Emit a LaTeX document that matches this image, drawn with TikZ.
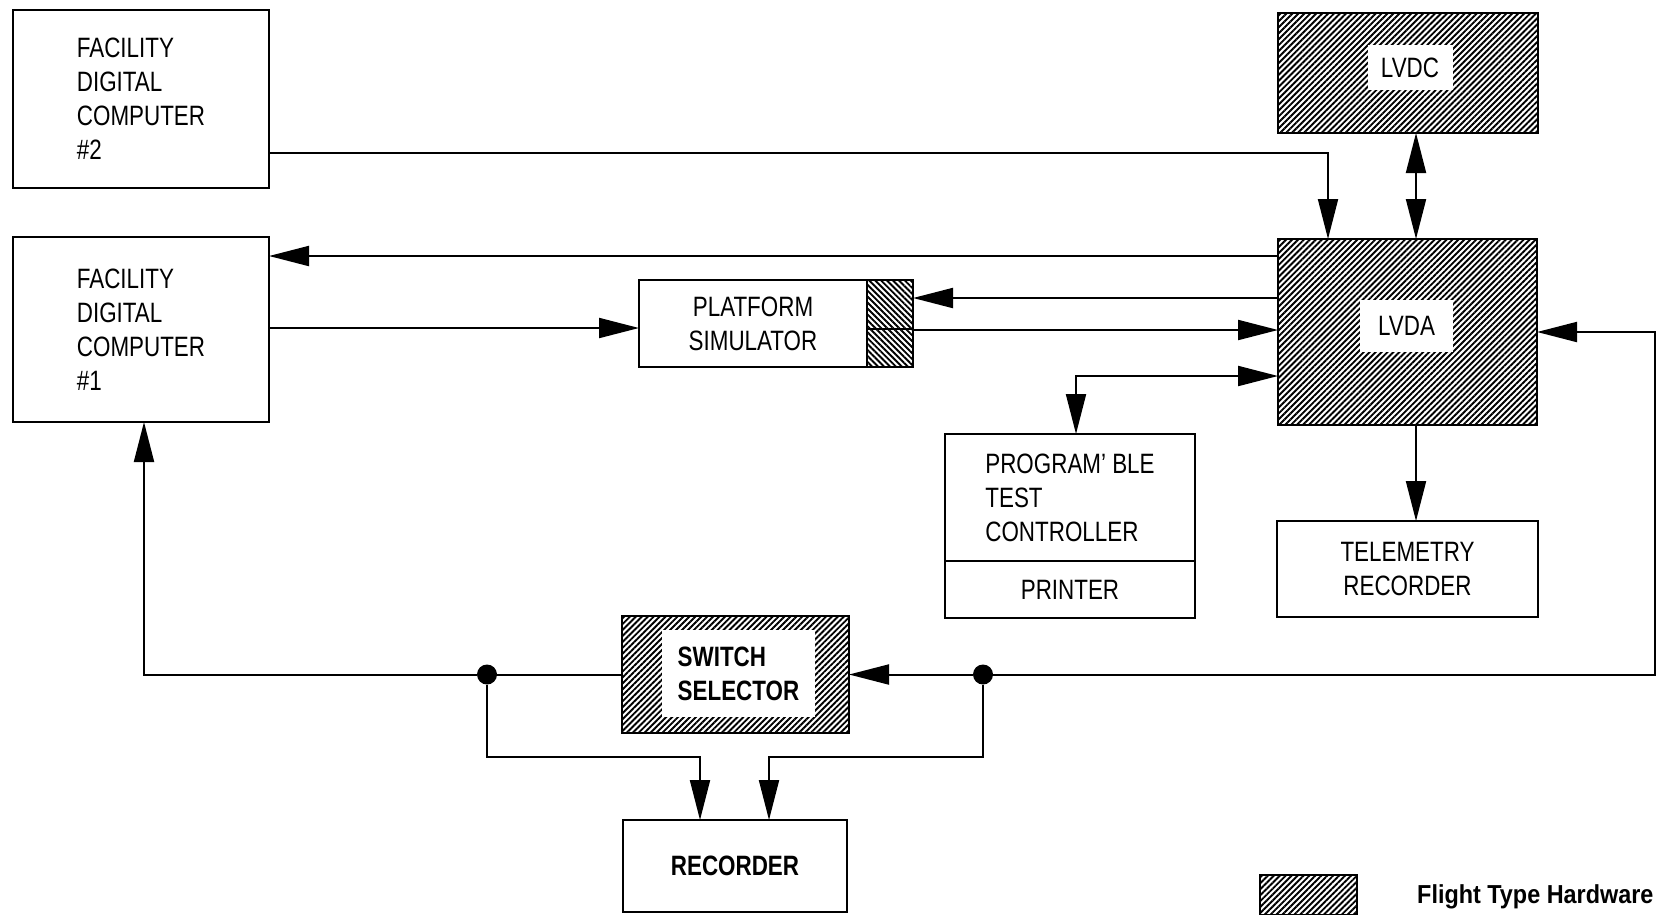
\documentclass[tikz,border=0pt]{standalone}
\usepackage{fontspec}
\setmainfont{Liberation Sans}[FakeStretch=0.8]
\newfontfamily\legendfont{Liberation Sans}[FakeStretch=0.9]
\usetikzlibrary{arrows.meta,patterns.meta,positioning}
\newcommand\BoxFont{\fontsize{28}{34}\selectfont}
\newcommand\TipLength{40pt}
\tikzset{
  block/.style={
    shape = rectangle,
    draw,
    line width = 2.6pt,
    inner sep = 0pt,
    outer sep = 0pt,
    font = \BoxFont
  },
}
\tikzset{
  flight/.style={
    block,
    pattern = {Lines[angle=45,distance=4.2pt,line width=1.9pt]}
  },
  flightrev/.style={
    block,
    pattern = {Lines[angle=-45,distance=4.2pt,line width=1.9pt]}
  },
  inset/.style={
    shape = rectangle,
    fill = white,
    inner sep = 0pt,
    font = \BoxFont
  },
  junction/.style={
    shape = circle,
    fill,
    inner sep = 0pt,
    minimum size = 20pt
  },
  link/.style={
    line width = 2pt
  }
}

\begin{document}
\begin{tikzpicture}[x=1pt,y=-1pt,>={Triangle[length=\TipLength,width=20pt]}]
    \path[use as bounding box, fill=white] (0,0) rectangle (1661,914);

    % facility computers
    \node[block, minimum width=256pt, minimum height=178pt, align=left] (fdcB) at (141,99) {FACILITY\\DIGITAL\\COMPUTER\\\#2};
    \node[block, minimum width=256pt, minimum height=185pt, align=left] (fdcA) at (141,329.5) {FACILITY\\DIGITAL\\COMPUTER\\\#1};

    % flight hardware
    \node[flight, minimum width=260pt, minimum height=120pt] (lvdc) at (1408,73) {};
    \node[inset, minimum width=85pt, minimum height=45pt] (lvdcL) at (1410,67.5) {LVDC};
    \node[flight, minimum width=259pt, minimum height=186pt] (lvda) at (1407.5,332) {};
    \node[inset, minimum width=93pt, minimum height=52pt] (lvdaL) at (1406.5,326) {LVDA};

    \node[block, minimum width=228pt, minimum height=87pt, align=center] (plat) at (753,323.5) {PLATFORM\\SIMULATOR};
    \node[flightrev, minimum width=46pt, minimum height=87pt, right=0pt of plat] (plathw) {};

    \node[block, minimum width=250pt, minimum height=127pt, align=left] (ptc) at (1070,497.5) {PROGRAM’ BLE\\TEST\\CONTROLLER};
    \node[block, minimum width=250pt, minimum height=57pt, below=0pt of ptc] (prn) {PRINTER};

    \node[block, minimum width=261pt, minimum height=96pt, align=center] (tlm) at (1407.5,569) {TELEMETRY\\RECORDER};

    \node[flight, minimum width=227pt, minimum height=117pt] (ssel) at (735.5,674.5) {};
    \node[inset, minimum width=153pt, minimum height=87pt, align=left, font=\BoxFont\bfseries] (sselL) at (738.5,673.5) {SWITCH\\SELECTOR};

    \node[block, minimum width=224pt, minimum height=92pt, font=\BoxFont\bfseries] (rec) at (735,866) {RECORDER};

    \node[junction] (dotL) at (487,674.5) {};
    \node[junction] (dotR) at (983,674.5) {};
    \coordinate (cornR) at (1655,674.5);

    % connectors
    \draw[link,->] (fdcB.east |- 0,153) -| (lvda.north -| 1328,0);
    \draw[link,<->] (lvdc.south -| 1416,0) -- (lvda.north -| 1416,0);
    \draw[link,->] (lvda.west |- 0,256) -- (fdcA.east |- 0,256);
    \draw[link,->] (fdcA.east |- 0,328) -- (plat.west |- 0,328);
    \draw[link,->] (lvda.west |- 0,298) -- (plathw.east |- 0,298);
    \draw[link] (plathw.west |- 0,329) -- (plathw.east |- 0,329);
    \draw[link,->] (plathw.east |- 0,330) -- (lvda.west |- 0,330);
    \draw[link,<->] (ptc.north -| 1076,0) |- (lvda.west |- 0,376);
    \draw[link,->] (lvda.south -| 1416,0) -- (tlm.north -| 1416,0);

    \draw[link,->] (dotR) -- (ssel.east);
    \draw[link,->] (dotR) -- (cornR) |- (lvda.east);
    \draw[link,->] (ssel.west) -- (dotL) -| (fdcA.south -| 144,0);
    \draw[link,->] (dotL) -- ++(0,82) -| (rec.north -| 700,0);
    \draw[link,->] (dotR) -- ++(0,82) -| (rec.north -| 769,0);

    % legend
    \node[flight, line width=1.5pt, minimum width=97pt, minimum height=40pt] (legbox) at (1308.5,895) {};
    \node[anchor=west, inner sep=0pt, font=\legendfont\bfseries\fontsize{26}{30}\selectfont] (legtext) at (1417,897) {Flight Type Hardware};
\end{tikzpicture}
\end{document}
